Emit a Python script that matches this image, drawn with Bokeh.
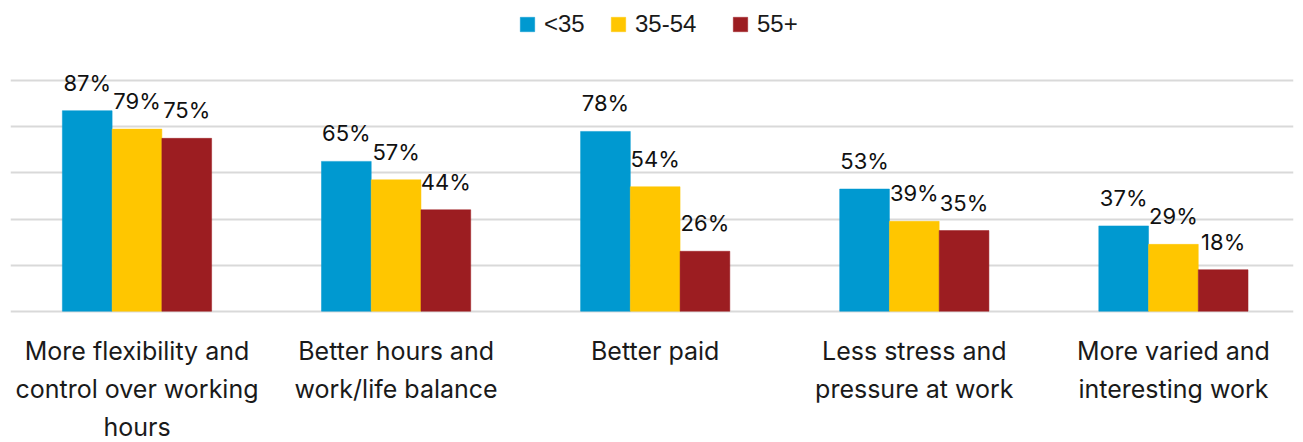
from bokeh.plotting import figure
from bokeh.models import ColumnDataSource, Range1d, FixedTicker, Legend, LegendItem
from bokeh.core.properties import value
from bokeh.embed import file_html
from bokeh.resources import INLINE

# ---- data ----
categories = [
    ["More flexibility and", "control over working", "hours"],
    ["Better hours and", "work/life balance"],
    ["Better paid"],
    ["Less stress and", "pressure at work"],
    ["More varied and", "interesting work"],
]
series_names = ["<35", "35-54", "55+"]
under35 = [87, 65, 78, 53, 37]
age35_54 = [79, 57, 54, 39, 29]
over55 = [75, 44, 26, 35, 18]
colors = ["#0099D0", "#FFC600", "#9C1D21"]
grid_ticks = [0, 20, 40, 60, 80, 100]

p = figure(width=1303, height=442, output_backend="svg", toolbar_location=None,
           min_border_left=10, min_border_right=10, min_border_top=0, min_border_bottom=0,
           x_range=Range1d(-0.4882, 4.4635), y_range=Range1d(-56.96, 134.8))
p.outline_line_color = None
p.xaxis.visible = False
p.yaxis.visible = False
p.xgrid.visible = False
p.ygrid.ticker = FixedTicker(ticks=grid_ticks)
p.ygrid.grid_line_color = "#D9D9D9"
p.ygrid.grid_line_width = 2

idx = list(range(len(categories)))
bw = 0.192
offsets = [-bw, 0, bw]
renderers = []
for vals, off, col in zip([under35, age35_54, over55], offsets, colors):
    src = ColumnDataSource(dict(x=[i + off for i in idx], top=vals,
                                lab=[f"{v}%" for v in vals]))
    r = p.vbar(x="x", top="top", width=bw, bottom=0, source=src,
               fill_color=col, line_color=col, line_width=0.5)
    renderers.append(r)
    p.text(x="x", y="top", text="lab", source=src, text_align="center",
           text_baseline="alphabetic", y_offset=-28, text_font=value("Inter"),
           text_font_size="22px", text_color="#111111")

# category labels, one text row per line
line_offsets = [40, 77.3, 115.3]
for li in range(3):
    xs, txt = [], []
    for i, lines in enumerate(categories):
        if li < len(lines):
            xs.append(i)
            txt.append(lines[li])
    src = ColumnDataSource(dict(x=xs, y=[0] * len(xs), t=txt))
    p.text(x="x", y="y", text="t", source=src, text_align="center",
           text_baseline="alphabetic", y_offset=line_offsets[li],
           text_font=value("Inter"), text_font_size="25px", text_color="#1A1A1A")

# legend: one entry per series, placed along the top
legend_x = [508, 599, 721]
for n, r, lx in zip(series_names, renderers, legend_x):
    lg = Legend(items=[LegendItem(label=n, renderers=[r])],
                orientation="horizontal", location=(lx, 404),
                glyph_width=18, glyph_height=18, label_standoff=8,
                padding=0, margin=0, background_fill_alpha=0, border_line_alpha=0,
                label_text_font="Liberation Sans", label_text_font_size="24px",
                label_text_color="#1A1A1A")
    p.add_layout(lg)

open("out.html", "w").write(file_html(p, INLINE))
